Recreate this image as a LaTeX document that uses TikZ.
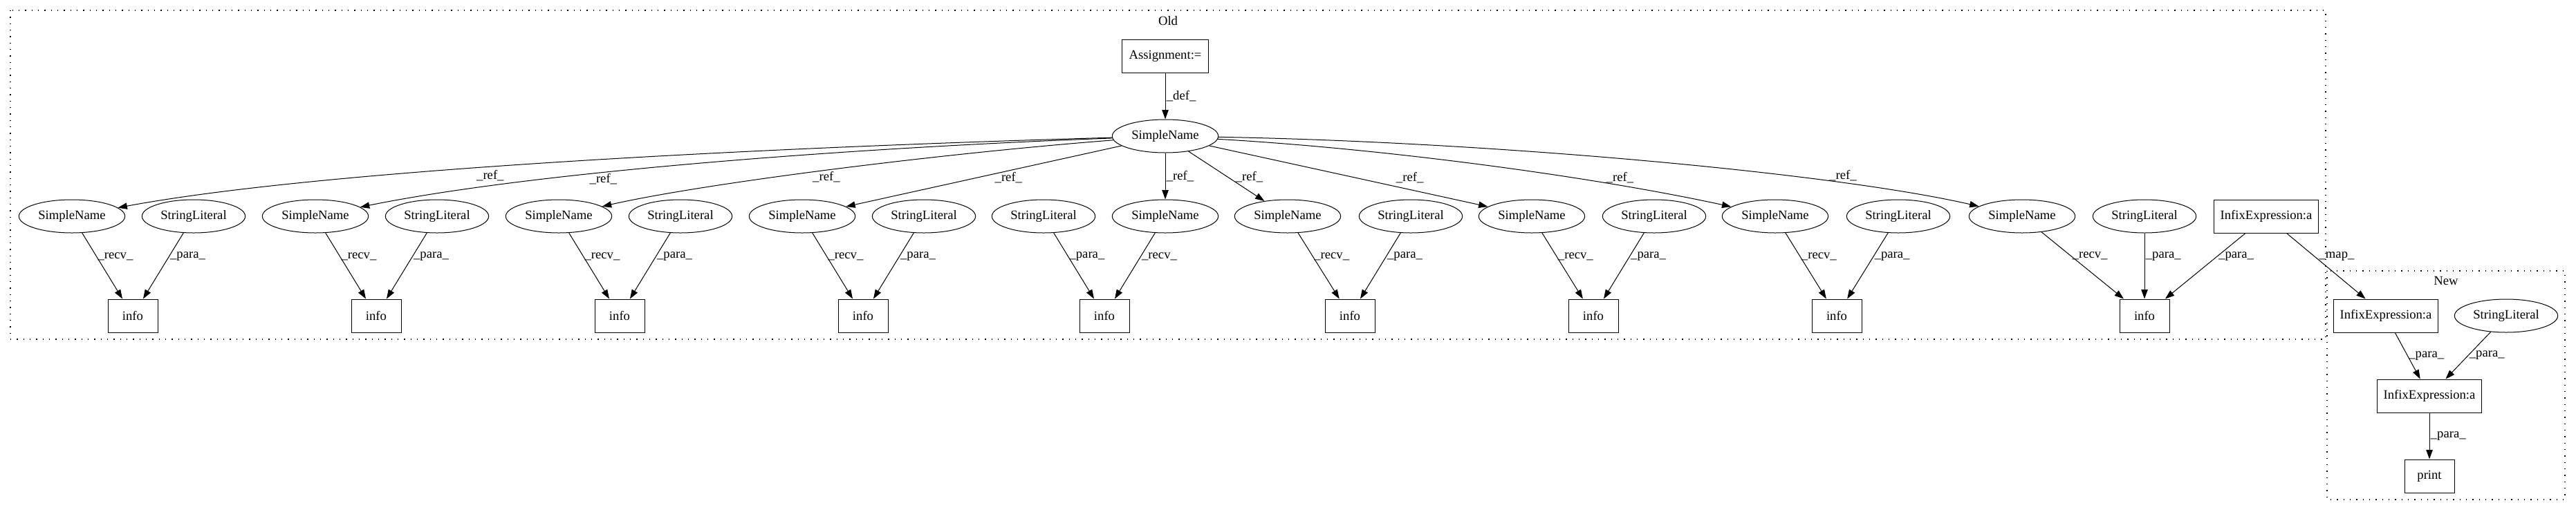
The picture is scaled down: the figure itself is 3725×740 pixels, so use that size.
\documentclass[tikz,border=0pt]{standalone}
\usepackage{fontspec}
\setmainfont{Liberation Serif}
\usetikzlibrary{arrows.meta,shapes.geometric}

\begin{document}
\begin{tikzpicture}[
  x=0.75pt, y=-0.75pt, >={Triangle[length=10pt,width=7pt]},
  font=\fontsize{14}{16}\selectfont, line width=0.75pt,
  oval/.style={draw, ellipse, inner sep=0pt, minimum height=36pt},
  sname/.style={oval, minimum width=115pt},
  slit/.style={oval, minimum width=112pt},
  box/.style={draw, rectangle, inner sep=0pt, minimum height=36pt, minimum width=54pt},
  wbox/.style={box, minimum width=113pt},
  lab/.style={inner sep=1pt},
  cluster/.style={line width=1pt, dash pattern=on 1pt off 6pt}]
\useasboundingbox (0,0) rectangle (3725,740);
% the two clusters
\draw[cluster] (15,15) rectangle (3363,491);
\draw[cluster] (3365,392) rectangle (3709,723);
\node (old) at (1689,30) {Old};
\node (new) at (3537,406) {New};
% old tree
\node[box, minimum width=94pt] (assign) at (1685,81) {Assignment:=};
\node[sname] (root) at (1685,197) {SimpleName};
\node[sname] (sn1) at (104,313) {SimpleName};
\node[slit] (sl1) at (280,313) {StringLiteral};
\node[box] (info1) at (192,457) {info};
\node[sname] (sn2) at (456,313) {SimpleName};
\node[slit] (sl2) at (632,313) {StringLiteral};
\node[box] (info2) at (544,457) {info};
\node[sname] (sn3) at (808,313) {SimpleName};
\node[slit] (sl3) at (984,313) {StringLiteral};
\node[box] (info3) at (896,457) {info};
\node[sname] (sn4) at (1160,313) {SimpleName};
\node[slit] (sl4) at (1336,313) {StringLiteral};
\node[box] (info4) at (1248,457) {info};
\node[slit] (sl5) at (1509,313) {StringLiteral};
\node[sname] (sn5) at (1685,313) {SimpleName};
\node[box] (info5) at (1597,457) {info};
\node[sname] (sn6) at (1862,313) {SimpleName};
\node[slit] (sl6) at (2040,313) {StringLiteral};
\node[box] (info6) at (1952,457) {info};
\node[sname] (sn7) at (2215,313) {SimpleName};
\node[slit] (sl7) at (2392,313) {StringLiteral};
\node[box] (info7) at (2304,457) {info};
\node[sname] (sn8) at (2567,313) {SimpleName};
\node[slit] (sl8) at (2745,313) {StringLiteral};
\node[box] (info8) at (2656,457) {info};
\node[sname] (sn9) at (2924,313) {SimpleName};
\node[slit] (sl9) at (3101,313) {StringLiteral};
\node[wbox] (infix) at (3277,313) {InfixExpression:a};
\node[box] (info9) at (3101,457) {info};
% new tree
\node[wbox] (ienew) at (3450,457) {InfixExpression:a};
\node[slit] (slnew) at (3624,457) {StringLiteral};
\node[wbox] (iemid) at (3513,573) {InfixExpression:a};
\node[box] (print) at (3513,689) {print};
% edges
\draw[->] (assign) -- node[lab, right]{\_def\_} (root);
\draw[->] (root) .. controls (1150,212) and (480,243) .. (sn1) node[lab, pos=.58, below=2pt]{\_ref\_};
\draw[->] (root) .. controls (1209,215) and (765,250) .. (sn2) node[lab, pos=.62, below]{\_ref\_};
\draw[->] (root) .. controls (1361,222) and (1020,265) .. (sn3) node[lab, pos=.51, below]{\_ref\_};
\draw[->] (root) -- node[lab, pos=.41, below]{\_ref\_} (sn4);
\draw[->] (root) -- node[lab, right]{\_ref\_} (sn5);
\draw[->] (root) -- node[lab, pos=.52, right=7pt]{\_ref\_} (sn6);
\draw[->] (root) -- node[lab, pos=.72, above=6pt]{\_ref\_} (sn7);
\draw[->] (root) .. controls (2000,215) and (2300,255) .. (sn8) node[lab, pos=.76, above=1pt]{\_ref\_};
\draw[->] (root) .. controls (2150,205) and (2650,250) .. (sn9) node[lab, pos=.76, above=1pt]{\_ref\_};
\draw[->] (sn1) -- node[lab, pos=.36, right]{\_recv\_} (info1); \draw[->] (sl1) -- node[lab, pos=.36, right]{\_para\_} (info1);
\draw[->] (sn2) -- node[lab, pos=.36, right]{\_recv\_} (info2); \draw[->] (sl2) -- node[lab, pos=.36, right]{\_para\_} (info2);
\draw[->] (sn3) -- node[lab, pos=.36, right]{\_recv\_} (info3); \draw[->] (sl3) -- node[lab, pos=.36, right]{\_para\_} (info3);
\draw[->] (sn4) -- node[lab, pos=.36, right]{\_recv\_} (info4); \draw[->] (sl4) -- node[lab, pos=.36, right]{\_para\_} (info4);
\draw[->] (sl5) -- node[lab, pos=.36, right]{\_para\_} (info5); \draw[->] (sn5) -- node[lab, pos=.36, right]{\_recv\_} (info5);
\draw[->] (sn6) -- node[lab, pos=.36, right]{\_recv\_} (info6); \draw[->] (sl6) -- node[lab, pos=.36, right]{\_para\_} (info6);
\draw[->] (sn7) -- node[lab, pos=.36, right]{\_recv\_} (info7); \draw[->] (sl7) -- node[lab, pos=.36, right]{\_para\_} (info7);
\draw[->] (sn8) -- node[lab, pos=.36, right]{\_recv\_} (info8); \draw[->] (sl8) -- node[lab, pos=.36, right]{\_para\_} (info8);
\draw[->] (sn9) -- node[lab, pos=.36, right]{\_recv\_} (info9); \draw[->] (sl9) -- node[lab, pos=.35, right]{\_para\_} (info9);
\draw[->] (infix) -- node[lab, pos=.35, right]{\_para\_} (info9);
\draw[->] (infix) -- node[lab, pos=.35, right=4pt]{\_map\_} (ienew);
\draw[->] (ienew) -- node[lab, right]{\_para\_} (iemid); \draw[->] (slnew) -- node[lab, right]{\_para\_} (iemid);
\draw[->] (iemid) -- node[lab, right]{\_para\_} (print);
\end{tikzpicture}
\end{document}
